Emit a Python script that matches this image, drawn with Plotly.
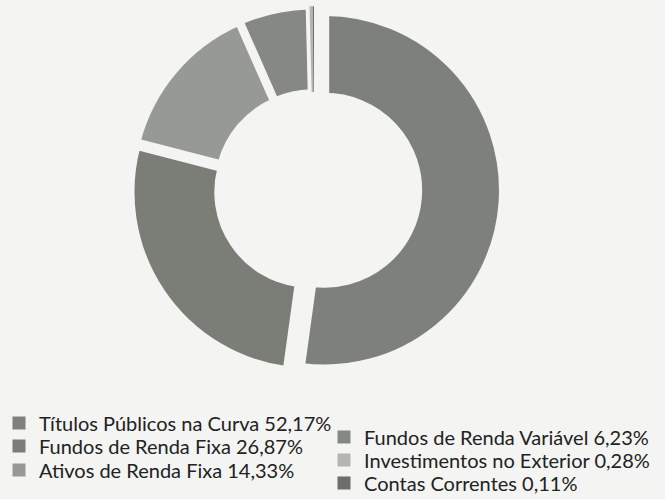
import plotly.graph_objects as go

# Data
labels = ["Títulos Públicos na Curva", "Fundos de Renda Fixa", "Ativos de Renda Fixa",
          "Fundos de Renda Variável", "Investimentos no Exterior", "Contas Correntes"]
values = [52.17, 26.87, 14.33, 6.23, 0.28, 0.11]
pct_text = ["52,17%", "26,87%", "14,33%", "6,23%", "0,28%", "0,11%"]

colors = ["#7e817b", "#7b7d77", "#979994", "#868883", "#b3b5b0", "#6d6f6a"]
pulls = [0.06, 0.025, 0.025, 0.025, 0.025, 0.025]
line_w = [9, 6, 6, 6, 0, 0]

BG = "#f4f4f2"
W, H = 665, 499
fig = go.Figure()

# domain geometry (pixels)
cx, cy, size = 314, 188.5, 381
fig.add_trace(go.Pie(
    labels=labels, values=values, sort=False, direction="clockwise", rotation=0,
    hole=0.52, pull=pulls, textinfo="none", hoverinfo="label+percent",
    marker=dict(colors=colors, line=dict(width=line_w, color=BG)),
    showlegend=False,
    domain=dict(x=[(cx - size / 2) / W, (cx + size / 2) / W],
                y=[max(0, 1 - (cy + size / 2) / H), 1]),
))

# Legend entries: one legend per entry, two columns
leg_pos = [(-1, 423), (-1, 446), (-1, 470), (324, 437), (324, 460), (324, 483)]
layout_legends = {}
for i, (lab, pt, col) in enumerate(zip(labels, pct_text, colors)):
    lname = "legend" if i == 0 else f"legend{i + 1}"
    fig.add_trace(go.Scatter(
        x=[None], y=[None], mode="markers", name=f"{lab} {pt}",
        marker=dict(symbol="square", size=13, color=col),
        legend=lname, hoverinfo="skip",
    ))
    px, py = leg_pos[i]
    layout_legends[lname] = dict(
        x=px / W, y=1 - py / H, xanchor="left", yanchor="middle",
        font=dict(family="Lato, 'Open Sans', sans-serif", size=20, color="#222222"),
        bgcolor="rgba(0,0,0,0)", itemclick=False, itemdoubleclick=False,
    )

fig.update_layout(
    width=W, height=H,
    margin=dict(l=0, r=0, t=0, b=0, autoexpand=False),
    paper_bgcolor=BG, plot_bgcolor=BG,
    xaxis=dict(visible=False), yaxis=dict(visible=False),
    **layout_legends,
)

fig.write_html(
    "out.html",
    config={"displayModeBar": False},
    post_script="document.body.style.margin='0';document.body.style.background='%s';" % BG,
)
